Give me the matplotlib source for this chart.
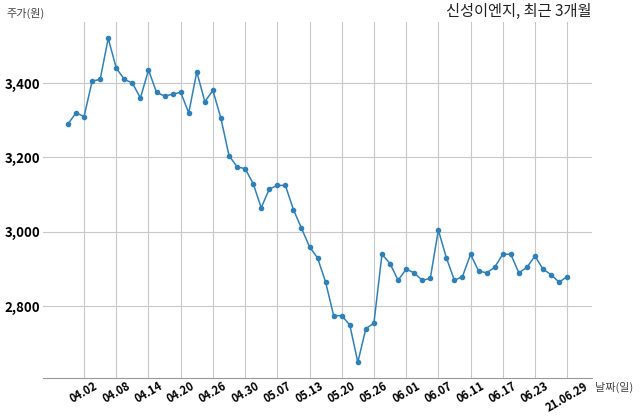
import matplotlib
matplotlib.use('Agg')
import matplotlib.pyplot as plt
from matplotlib.ticker import FuncFormatter

plt.rcParams['font.family'] = ['Noto Sans CJK KR', 'DejaVu Sans']

# trading days 2021.03.31 ~ 2021.06.29
dates = ['03.31', '04.01', '04.02', '04.05', '04.06', '04.07', '04.08',
         '04.09', '04.12', '04.13', '04.14', '04.15', '04.16', '04.19', '04.20',
         '04.21', '04.22', '04.23', '04.26', '04.27', '04.28', '04.29', '04.30',
         '05.03', '05.04', '05.06', '05.07', '05.10', '05.11', '05.12', '05.13',
         '05.14', '05.17', '05.18', '05.20', '05.21', '05.24', '05.25', '05.26',
         '05.27', '05.28', '05.31', '06.01', '06.02', '06.03', '06.04', '06.07',
         '06.08', '06.09', '06.10', '06.11', '06.14', '06.15', '06.16', '06.17',
         '06.18', '06.21', '06.22', '06.23', '06.24', '06.25', '06.28', '21.06.29']

prices = [3290, 3320, 3310, 3405, 3410, 3520, 3440, 3410, 3400, 3360,
          3435, 3375, 3365, 3370, 3375, 3320, 3430, 3350, 3380, 3305,
          3205, 3175, 3170, 3130, 3065, 3115, 3125, 3125, 3060, 3010,
          2960, 2930, 2865, 2775, 2775, 2750, 2650, 2740, 2755, 2940,
          2915, 2870, 2900, 2890, 2870, 2875, 3005, 2930, 2870, 2880,
          2940, 2895, 2890, 2905, 2940, 2940, 2890, 2905, 2935, 2900,
          2885, 2865, 2880]

tick_idx = list(range(2, len(dates), 4))
yticks = [2800, 3000, 3200, 3400]

fig = plt.figure(figsize=(6.4, 4.19), dpi=100)
ax = fig.add_axes([0.0672, 0.097, 0.858, 0.85])

x = list(range(len(prices)))
ax.plot(x, prices, color='#3080b8', lw=1.1, marker='o', ms=3)

ax.set_xticks(tick_idx)
ax.set_xticklabels([dates[i] for i in tick_idx], rotation=30, ha='center',
                   fontsize=8, fontweight='semibold')
ax.set_yticks(yticks)
ax.yaxis.set_major_formatter(FuncFormatter(lambda v, p: f'{int(v):,}'))
for lab in ax.get_yticklabels():
    lab.set_fontsize(9.5)
    lab.set_fontweight('semibold')

ax.tick_params(axis='y', length=0, pad=2)
ax.tick_params(axis='x', length=0, pad=1)
ax.grid(True, color='#c8c8c8', lw=0.8)
ax.set_axisbelow(True)
for s in ['left', 'right', 'top']:
    ax.spines[s].set_visible(False)
ax.spines['bottom'].set_color('#999999')

fig.text(0.01, 0.955, '주가(원)', fontsize=8, color='#444444', ha='left', va='bottom')
fig.text(0.924, 0.952, '신성이엔지, 최근 3개월', fontsize=11, color='#222222',
         ha='right', va='bottom')
fig.text(0.929, 0.075, '날짜(일)', fontsize=8, color='#444444', ha='left', va='center')

fig.savefig('out.png', dpi=100)
